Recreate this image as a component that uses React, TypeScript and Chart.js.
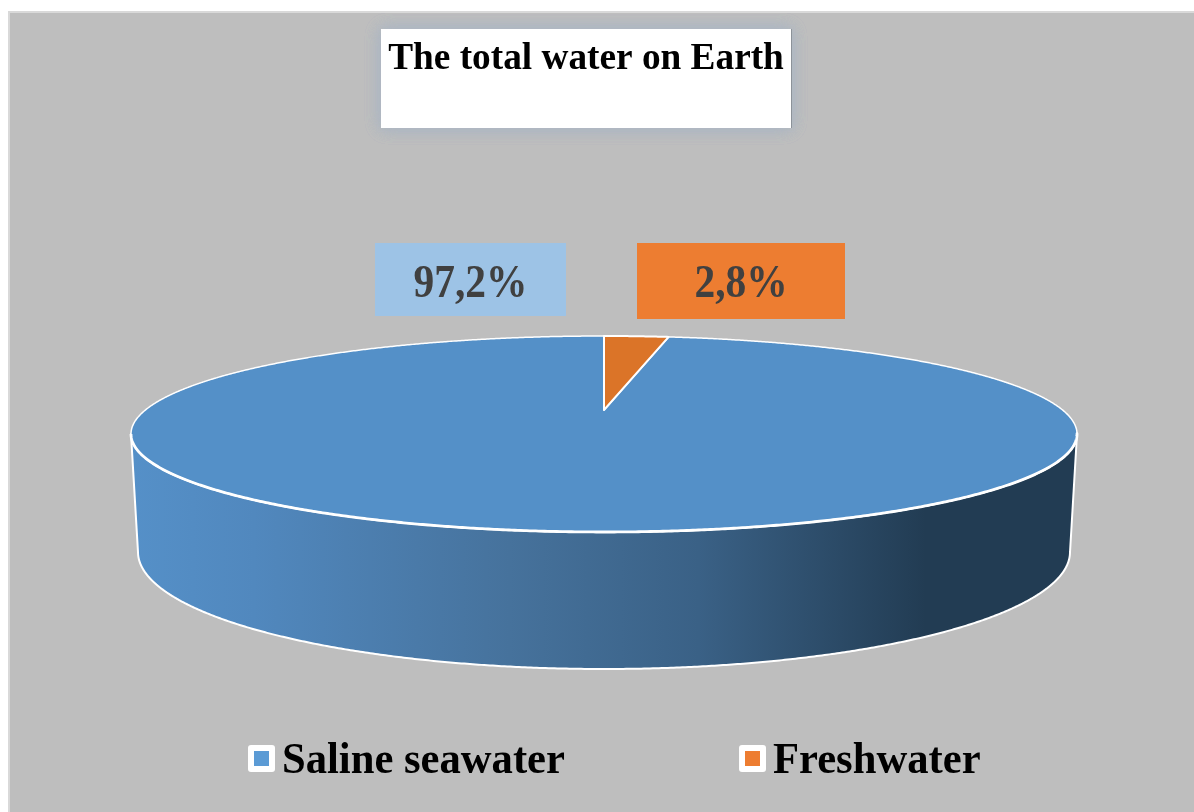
import React, { useEffect, useRef } from "react";
import { Chart, registerables } from "chart.js";

Chart.register(...registerables);

const titleText = "The total water on Earth";
const categories = ["Saline seawater", "Freshwater"];
const shares = [97.2, 2.8];
const shareLabels = ["97,2%", "2,8%"];
const topColors = ["#5490C8", "#DB7428"];
const legendColors = ["#5B9BD5", "#ED7D31"];
const labelBoxColors = ["#9DC3E6", "#ED7D31"];

const SERIF = "'Liberation Serif', 'Times New Roman', serif";

// Camera of the 3D pie: projection of the unit disc on the top and bottom ellipses.
const top = { cx: 604, cy: 434, rx: 473, ry: 98 };
const bottom = { cx: 604, cy: 552, rx: 466, ry: 117 };
const tilt = 0.245;

function project(angle: number) {
  const u = Math.cos(angle);
  const v = -Math.sin(angle);
  const d = 1 + tilt * v;
  return { u: (u * Math.sqrt(1 - tilt * tilt)) / d, v: (v + tilt) / d };
}

function samples(start: number, end: number) {
  const n = Math.max(2, Math.ceil((end - start) / 0.005));
  const out = [];
  for (let i = 0; i <= n; i++) out.push(project(start + ((end - start) * i) / n));
  return out;
}

function stretchedText(ctx: any, text: string, x: number, y: number, sx: number) {
  ctx.save();
  ctx.translate(x, y);
  ctx.scale(sx, 1);
  ctx.fillText(text, 0, 0);
  ctx.restore();
}

const pie3d = {
  id: "pie3d",
  beforeDraw(chart: any) {
    const ctx = chart.ctx;
    ctx.save();
    ctx.fillStyle = "#FFFFFF";
    ctx.fillRect(0, 0, chart.width, chart.height);
    ctx.fillStyle = "#D9D9D9";
    ctx.fillRect(8, 11, chart.width - 8, chart.height - 11);
    ctx.fillStyle = "#BEBEBE";
    ctx.fillRect(10, 13, chart.width - 10, chart.height - 13);
    // title box with its glow, kept inside the grey panel
    ctx.save();
    ctx.beginPath();
    ctx.rect(10, 13, chart.width - 10, chart.height - 13);
    ctx.clip();
    ctx.shadowColor = "#AEB7C2";
    ctx.shadowBlur = 15;
    ctx.fillStyle = "#FFFFFF";
    for (let pass = 0; pass < 3; pass++) ctx.fillRect(381, 29, 410, 99);
    ctx.restore();
    ctx.fillStyle = "#FFFFFF";
    ctx.fillRect(381, 29, 410, 99);
    ctx.fillStyle = "#8C9299";
    ctx.fillRect(791, 29, 1, 99);
    ctx.restore();
  },
  beforeDatasetsDraw(chart: any) {
    const ctx = chart.ctx;
    const arcs = chart.getDatasetMeta(0).data;
    ctx.save();
    ctx.lineJoin = "round";
    const frontEdges: any[] = [];
    // side wall
    arcs.forEach((arc: any) => {
      const pts = samples(arc.startAngle, arc.endAngle)
        .filter((p) => p.v <= 0.004)
        .sort((a, b) => a.u - b.u);
      if (pts.length < 2) return;
      frontEdges.push(pts);
      const g = ctx.createLinearGradient(top.cx - top.rx, 0, top.cx + top.rx, 0);
      g.addColorStop(0, "#5590C8");
      g.addColorStop(0.13, "#5188BE");
      g.addColorStop(0.4, "#46729C");
      g.addColorStop(0.6, "#3A6186");
      g.addColorStop(0.84, "#223C53");
      g.addColorStop(1, "#223C53");
      ctx.beginPath();
      pts.forEach((p, i) => {
        const x = top.cx + top.rx * p.u;
        const y = top.cy - top.ry * p.v;
        if (i === 0) ctx.moveTo(x, y);
        else ctx.lineTo(x, y);
      });
      for (let i = pts.length - 1; i >= 0; i--) {
        const p = pts[i];
        ctx.lineTo(bottom.cx + bottom.rx * p.u, bottom.cy - bottom.ry * p.v);
      }
      ctx.closePath();
      ctx.fillStyle = g;
      ctx.fill();
      ctx.strokeStyle = "#FFFFFF";
      ctx.lineWidth = 2;
      ctx.stroke();
    });
    // top face
    arcs.forEach((arc: any, idx: number) => {
      const pts = samples(arc.startAngle, arc.endAngle);
      ctx.beginPath();
      ctx.moveTo(top.cx, top.cy - top.ry * tilt);
      pts.forEach((p) => ctx.lineTo(top.cx + top.rx * p.u, top.cy - top.ry * p.v));
      ctx.closePath();
      ctx.fillStyle = arc.options.backgroundColor || topColors[idx];
      ctx.fill();
      ctx.strokeStyle = "#FFFFFF";
      ctx.lineWidth = idx === 0 ? 1.5 : 2;
      ctx.stroke();
    });
    // thicker seam where the top meets the wall
    frontEdges.forEach((pts) => {
      ctx.beginPath();
      pts.forEach((p: any, i: number) => {
        const x = top.cx + top.rx * p.u;
        const y = top.cy - top.ry * p.v;
        if (i === 0) ctx.moveTo(x, y);
        else ctx.lineTo(x, y);
      });
      ctx.strokeStyle = "#FFFFFF";
      ctx.lineWidth = 2.8;
      ctx.stroke();
    });
    ctx.restore();
    return false;
  },
  afterDraw(chart: any) {
    const ctx = chart.ctx;
    ctx.save();
    // data labels
    const boxes = [
      { x: 375, y: 243, w: 191, h: 73 },
      { x: 637, y: 243, w: 208, h: 76 },
    ];
    ctx.textAlign = "center";
    ctx.textBaseline = "alphabetic";
    ctx.font = `bold 46px ${SERIF}`;
    shareLabels.forEach((label, i) => {
      const b = boxes[i];
      ctx.fillStyle = labelBoxColors[i];
      ctx.fillRect(b.x, b.y, b.w, b.h);
      ctx.fillStyle = "#404040";
      stretchedText(ctx, label, b.x + b.w / 2, 297, 0.9);
    });
    // legend
    const legendX = [248, 739];
    ctx.textAlign = "left";
    ctx.font = `bold 43.5px ${SERIF}`;
    categories.forEach((name, i) => {
      const x = legendX[i];
      ctx.fillStyle = "#FFFFFF";
      ctx.beginPath();
      ctx.roundRect(x, 745, 27, 27, 3);
      ctx.fill();
      ctx.fillStyle = legendColors[i];
      ctx.fillRect(x + 6, 751, 15, 15);
      ctx.fillStyle = "#000000";
      stretchedText(ctx, name, x + 34, 773, 0.98);
    });
    ctx.restore();
  },
};

export default function App() {
  const ref = useRef<HTMLCanvasElement>(null);
  useEffect(() => {
    const chart = new Chart(ref.current as HTMLCanvasElement, {
      type: "pie",
      data: {
        labels: categories,
        datasets: [{ data: shares, backgroundColor: topColors, borderColor: "#FFFFFF", borderWidth: 2 }],
      },
      options: {
        animation: false,
        responsive: false,
        devicePixelRatio: 1,
        rotation: (shares[1] / 100) * 360,
        layout: { padding: { right: 22 } },
        events: [],
        plugins: {
          legend: { display: false },
          tooltip: { enabled: false },
          title: {
            display: true,
            text: titleText,
            color: "#000000",
            font: { family: SERIF, size: 37.3, weight: "bold" },
            padding: { top: 37, bottom: 0 },
          },
        },
      },
      plugins: [pie3d],
    } as any);
    return () => chart.destroy();
  }, []);
  return (
    <div style={{ position: "fixed", inset: 0, overflow: "hidden" }}>
      <canvas ref={ref} width={1194} height={812} style={{ display: "block", width: 1194, height: 812 }} />
    </div>
  );
}
